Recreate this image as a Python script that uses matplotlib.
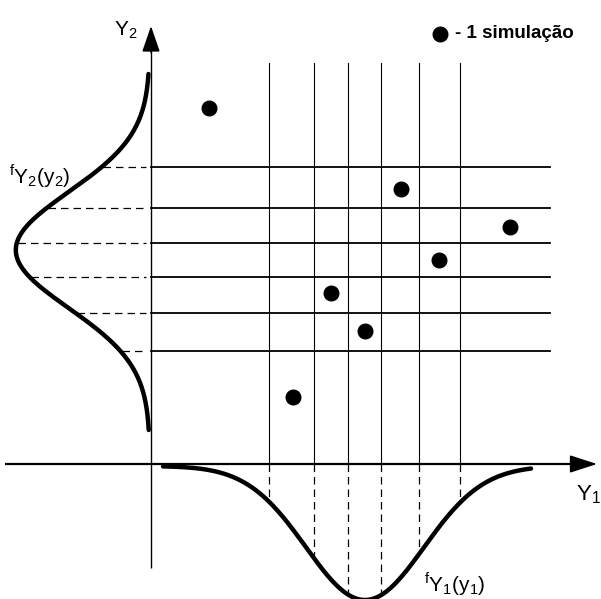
import numpy as np
import matplotlib
matplotlib.use("Agg")
import matplotlib.pyplot as plt

plt.rcParams['font.family'] = ['Liberation Sans', 'DejaVu Sans']
plt.rcParams['mathtext.fontset'] = 'custom'
plt.rcParams['mathtext.sf'] = 'Liberation Sans'
plt.rcParams['mathtext.rm'] = 'Liberation Sans'

# Sampled values of Y1 (vertical lines) and Y2 (horizontal lines)
y1_samples = [2.95, 4.075, 4.925, 5.75, 6.7, 7.725]
y2_samples = [7.425, 6.4, 5.525, 4.675, 3.775, 2.825]

# Simulated pairs (Y1, Y2)
sim_y1 = [1.45, 6.25, 8.975, 7.2, 4.5, 5.35, 3.55]
sim_y2 = [8.9, 6.875, 5.925, 5.1, 4.275, 3.325, 1.675]

# Marginal distributions (normal) and their drawing scale
mu1, sigma1 = 5.35, 1.475
mu2, sigma2 = 5.35, 1.45
pdf_height = 3.35  # drawn height of the density peak

def pdf_drawn(v, mu, sigma):
    return pdf_height * np.exp(-0.5 * ((v - mu) / sigma) ** 2)

fig = plt.figure(figsize=(6.01, 5.99), dpi=100)
ax = fig.add_axes([0, 0, 1, 1])
ax.set_xlim(-3.775, 11.25)
ax.set_ylim(-3.375, 11.6)
ax.axis('off')

# Axes with arrows
ax.plot([-3.65, 10.6], [0, 0], color='black', lw=1.6, solid_capstyle='butt')
ax.plot([0, 0], [-2.6, 10.4], color='black', lw=1.0, solid_capstyle='butt')
ax.annotate('', xy=(11.15, 0), xytext=(10.4, 0),
            arrowprops=dict(arrowstyle='-|>,head_length=1.7,head_width=0.55',
                            color='black', lw=1.2, shrinkA=0, shrinkB=0))
ax.annotate('', xy=(0, 10.95), xytext=(0, 10.3),
            arrowprops=dict(arrowstyle='-|>,head_length=1.6,head_width=0.55',
                            color='black', lw=1.2, shrinkA=0, shrinkB=0))

# Grid of sampled values
for v in y1_samples:
    ax.plot([v, v], [0, 10.025], color='black', lw=0.8)
    ax.plot([v, v], [0, -pdf_drawn(v, mu1, sigma1)], color='black', lw=0.9,
            linestyle=(0, (6, 4)))
for v in y2_samples:
    ax.plot([0, 9.975], [v, v], color='black', lw=1.3)
    ax.plot([-pdf_drawn(v, mu2, sigma2), -0.12], [v, v], color='black', lw=0.9,
            linestyle=(0, (6, 4)))

# Density curves
t1 = np.linspace(0.3, 9.5, 300)
ax.plot(t1, -pdf_drawn(t1, mu1, sigma1) - 0.05, color='black', lw=3.2,
        solid_capstyle='round')
t2 = np.linspace(0.85, 9.75, 300)
ax.plot(-pdf_drawn(t2, mu2, sigma2) - 0.03, t2, color='black', lw=3.2,
        solid_capstyle='round')

# Simulated points
ax.plot(sim_y1, sim_y2, 'o', color='black', markersize=10.5)

# Legend
ax.plot([7.23], [10.75], 'o', color='black', markersize=10.5)
ax.text(7.6, 10.75, '- 1 simulação', fontsize=13.5, fontweight='bold',
        ha='left', va='center')

# Labels
ax.text(-0.92, 10.85, r'$\mathsf{Y_2}$', fontsize=15, ha='left', va='center')
ax.text(10.62, -0.78, r'$\mathsf{Y_1}$', fontsize=16, ha='left', va='center')
ax.text(-3.55, 7.2, r'$^{\mathsf{f}}\mathsf{Y_2(y_2)}$', fontsize=15,
        ha='left', va='center')
ax.text(6.83, -3.0, r'$^{\mathsf{f}}\mathsf{Y_1(y_1)}$', fontsize=15,
        ha='left', va='center')

fig.savefig('out.png', dpi=100)
